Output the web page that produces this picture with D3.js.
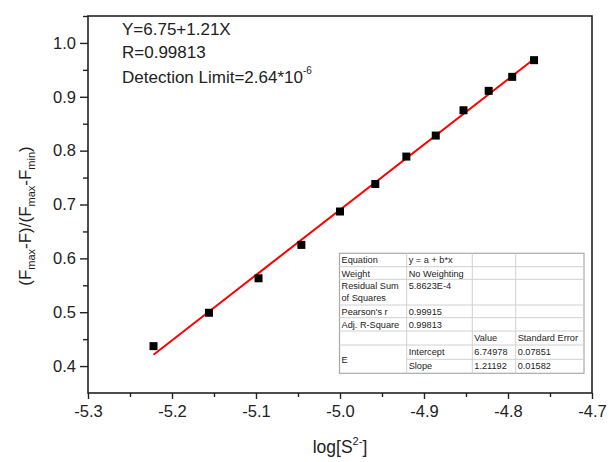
<!DOCTYPE html>
<html><head><meta charset="utf-8">
<script src="https://cdn.jsdelivr.net/npm/d3@7"></script>
<style>body{margin:0;background:#fff;}svg{display:block;font-family:"Liberation Sans",Arial,sans-serif;}</style>
</head><body><svg id="c" width="609" height="462"></svg>
<script>
const logS = [-5.222,-5.156,-5.097,-5.046,-5.000,-4.958,-4.921,-4.886,-4.853,-4.823,-4.795,-4.769];
const ratio = [0.437,0.499,0.563,0.625,0.687,0.738,0.789,0.828,0.875,0.911,0.937,0.968];
const fitIntercept = 6.74978, fitSlope = 1.21192;
const xTicks = [-5.3,-5.2,-5.1,-5.0,-4.9,-4.8,-4.7];
const yTicks = [0.4,0.5,0.6,0.7,0.8,0.9,1.0];
const tableRows = [
  ["Equation","y = a + b*x","",""],
  ["Weight","No Weighting","",""],
  ["Residual Sum|of Squares","5.8623E-4","",""],
  ["Pearson's r","0.99915","",""],
  ["Adj. R-Square","0.99813","",""],
  ["","","Value","Standard Error"],
  ["E","Intercept","6.74978","0.07851"],
  ["","Slope","1.21192","0.01582"]
];

const svg = d3.select("#c");
const L=88,R=592,T=16,B=393;
const x = d3.scaleLinear().domain([-5.3,-4.7]).range([L,R]);
const y = d3.scaleLinear().domain([0.35,1.05]).range([B,T]);

// frame
svg.append("rect").attr("x",L).attr("y",T).attr("width",R-L).attr("height",B-T)
  .attr("fill","none").attr("stroke","#222").attr("stroke-width",1.6);

// x axis
const xMinor = d3.range(-5.25,-4.7,0.1);
const gx = svg.append("g").attr("transform",`translate(0,${B})`)
  .call(d3.axisBottom(x).tickValues(xMinor).tickSize(4).tickFormat(""));
const gx2 = svg.append("g").attr("transform",`translate(0,${B})`)
  .call(d3.axisBottom(x).tickValues(xTicks).tickSize(6).tickPadding(6).tickFormat(d3.format(".1f")));
[gx,gx2].forEach(g=>{g.select(".domain").remove();g.selectAll("line").attr("stroke","#222").attr("stroke-width",1.4);});
gx2.selectAll("text").attr("font-size",16.5).attr("fill","#222").attr("font-family","Liberation Sans, Arial, sans-serif").text(d=>d3.format(".1f")(d).replace("−","-"));

// y axis
const yMinor = d3.range(0.45,1.05,0.1);
const gy = svg.append("g").attr("transform",`translate(${L},0)`)
  .call(d3.axisLeft(y).tickValues(yMinor).tickSize(5).tickFormat(""));
const gy2 = svg.append("g").attr("transform",`translate(${L},0)`)
  .call(d3.axisLeft(y).tickValues(yTicks).tickSize(8).tickPadding(4).tickFormat(d3.format(".1f")));
[gy,gy2].forEach(g=>{g.select(".domain").remove();g.selectAll("line").attr("stroke","#222").attr("stroke-width",1.4);});
gy2.selectAll("text").attr("font-size",16.5).attr("fill","#222").attr("font-family","Liberation Sans, Arial, sans-serif");

// x title
const xt = svg.append("text").attr("x",(L+R)/2).attr("y",453).attr("text-anchor","middle")
  .attr("font-size",17.5).attr("fill","#222");
xt.append("tspan").text("log[S");
xt.append("tspan").attr("font-size",11).attr("dy",-8).text("2-");
xt.append("tspan").attr("dy",8).text("]");

// y title
const yt = svg.append("text").attr("transform","translate(31,216) rotate(-90)").attr("text-anchor","middle")
  .attr("font-size",17).attr("fill","#222");
yt.append("tspan").text("(F");
yt.append("tspan").attr("font-size",11).attr("dy",4).text("max");
yt.append("tspan").attr("dy",-4).text("-F)/(F");
yt.append("tspan").attr("font-size",11).attr("dy",4).text("max");
yt.append("tspan").attr("dy",-4).text("-F");
yt.append("tspan").attr("font-size",11).attr("dy",4).text("min");
yt.append("tspan").attr("dy",-4).text(")");

// fit line
const x0 = d3.min(logS), x1 = d3.max(logS);
svg.append("line").attr("x1",x(x0)).attr("y1",y(fitIntercept+fitSlope*x0))
  .attr("x2",x(x1)).attr("y2",y(fitIntercept+fitSlope*x1))
  .attr("stroke","#ff0000").attr("stroke-width",2);

// points
svg.append("g").selectAll("rect").data(logS).join("rect")
  .attr("x",(d)=>x(d)-4).attr("y",(d,i)=>y(ratio[i])-4).attr("width",8).attr("height",8).attr("fill","#000");

// annotations
const ann = svg.append("g").attr("font-size",17).attr("fill","#222");
ann.append("text").attr("x",122).attr("y",35).text("Y=6.75+1.21X");
ann.append("text").attr("x",122).attr("y",58).text("R=0.99813");
const dl = ann.append("text").attr("x",122).attr("y",83);
dl.append("tspan").text("Detection Limit=2.64*10");
dl.append("tspan").attr("font-size",10).attr("dy",-9).text("-6");

// table
const colX = [339.5,406.7,472.3,515.7,584];
const rowY = [253.3,266.7,279.3,305,317.7,331,345,359.3,373.3];
const tg = svg.append("g");
tg.append("rect").attr("x",colX[0]).attr("y",rowY[0]).attr("width",colX[4]-colX[0]).attr("height",rowY[8]-rowY[0])
  .attr("fill","#fff").attr("stroke","#aaa").attr("stroke-width",1.2);
for(let i=1;i<8;i++){
  tg.append("line").attr("x1",i===7?colX[1]:colX[0]).attr("x2",colX[4]).attr("y1",rowY[i]).attr("y2",rowY[i])
    .attr("stroke","#d0d0d0").attr("stroke-width",1);
}
for(let j=1;j<4;j++){
  tg.append("line").attr("x1",colX[j]).attr("x2",colX[j]).attr("y1",rowY[0]).attr("y2",rowY[8])
    .attr("stroke","#d0d0d0").attr("stroke-width",1);
}
tableRows.forEach((row,i)=>{
  row.forEach((cell,j)=>{
    if(!cell) return;
    const parts = cell.split("|");
    let ty = rowY[i]+10;
    if(cell==="E") ty = (rowY[6]+rowY[8])/2+3.5;
    parts.forEach((p,k)=>{
      tg.append("text").attr("x",colX[j]+2).attr("y",ty+k*11.5).attr("font-size",9.2).attr("fill","#222").text(p);
    });
  });
});
</script></body></html>
